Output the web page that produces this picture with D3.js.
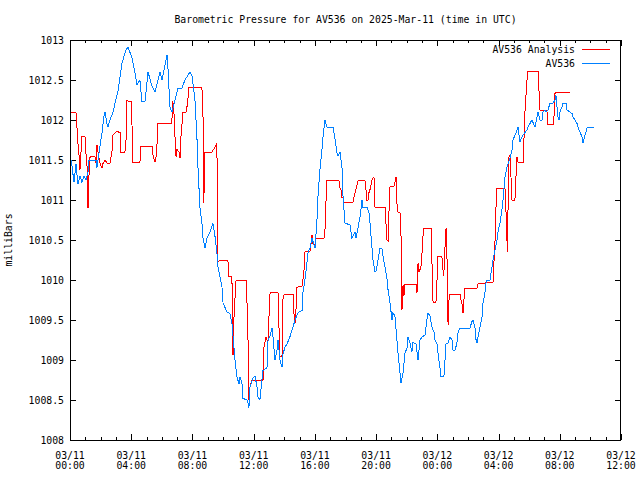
<!DOCTYPE html>
<html><head><meta charset="utf-8">
<script src="https://cdn.jsdelivr.net/npm/d3@7"></script>
<style>
body{margin:0;background:#fff;}
text{font-family:"DejaVu Sans Mono",monospace;font-size:9.8px;fill:#000;}
</style></head>
<body><svg id="c" width="640" height="480"></svg>
<script>
const title = "Barometric Pressure for AV536 on 2025-Mar-11 (time in UTC)";
const yLabel = "milliBars";
const seriesNames = ["AV536 Analysis", "AV536"];
const yTicks = [1008, 1008.5, 1009, 1009.5, 1010, 1010.5, 1011, 1011.5, 1012, 1012.5, 1013];
const yTickLabels = ["1008","1008.5","1009","1009.5","1010","1010.5","1011","1011.5","1012","1012.5","1013"];
const xMajorHours = [0,4,8,12,16,20,24,28,32,36];
const xTickLabels = [["03/11","00:00"],["03/11","04:00"],["03/11","08:00"],["03/11","12:00"],["03/11","16:00"],["03/11","20:00"],["03/12","00:00"],["03/12","04:00"],["03/12","08:00"],["03/12","12:00"]];

// hours since 2025-03-11 00:00 UTC, pressure in mb
const analysisHours = [0.05,0.39,0.46,0.52,0.59,0.65,0.72,0.78,0.98,1.05,1.11,1.13,1.20,1.24,1.31,1.63,1.70,1.76,1.83,1.96,2.09,2.16,2.29,2.42,2.61,2.74,2.81,2.94,3.07,3.27,3.33,3.59,3.66,3.72,3.99,4.05,4.07,4.57,4.64,5.36,5.42,5.55,5.68,5.70,6.66,6.68,6.75,6.79,6.86,6.93,6.99,7.12,7.19,7.25,7.38,7.58,7.64,7.71,7.77,8.62,8.69,8.70,8.72,8.75,8.78,8.82,9.28,9.34,9.47,9.60,9.62,9.65,9.67,9.73,10.32,10.39,10.58,10.62,10.65,10.68,10.78,10.85,11.50,11.56,11.63,11.66,11.69,11.76,11.89,12.61,12.67,12.80,12.87,12.94,13.00,13.07,13.59,13.65,13.72,13.85,13.90,13.92,14.18,14.57,14.63,14.70,14.77,14.83,15.16,15.22,15.29,15.35,15.68,15.75,15.81,15.88,16.01,16.07,16.59,16.66,16.73,16.79,17.57,17.64,17.70,17.77,17.84,17.90,18.49,18.62,18.75,18.82,19.27,19.34,19.40,19.47,19.53,19.60,19.73,19.86,19.93,20.58,20.65,20.71,20.78,20.84,20.91,21.17,21.23,21.30,21.32,21.36,21.43,21.56,21.63,21.66,21.69,21.76,21.82,21.89,22.61,22.67,22.74,22.80,22.93,23.00,23.06,23.13,23.59,23.65,23.72,23.91,23.98,24.00,24.30,24.37,24.40,24.43,24.50,24.57,24.63,24.67,24.70,24.76,24.83,25.48,25.55,25.61,25.68,25.74,25.81,26.59,26.66,27.64,27.70,27.77,27.80,27.83,27.90,28.42,28.49,28.55,28.58,28.62,28.68,28.75,28.81,28.88,29.07,29.14,29.20,29.27,29.60,29.66,29.73,29.86,29.92,30.58,30.64,30.71,31.16,31.20,31.56,31.62,31.69,32.67];
const analysisValues = [1012.1,1012.1,1011.9,1011.71,1011.56,1011.375,1011.6,1011.79,1011.79,1011.56,1011.46,1010.91,1010.91,1011.3,1011.54,1011.54,1011.46,1011.69,1011.6,1011.46,1011.4,1011.46,1011.5,1011.46,1011.46,1011.6,1011.81,1011.84,1011.86,1011.84,1011.6,1011.6,1011.75,1012.24,1012.23,1011.96,1011.475,1011.475,1011.675,1011.675,1011.56,1011.475,1011.6,1011.96,1011.96,1012.23,1012.2,1012.1,1011.79,1011.54,1011.63,1011.6,1011.52,1011.79,1012.1,1012.1,1012.16,1012.275,1012.41,1012.41,1012.04,1011.34,1010.96,1011.34,1011.09,1011.59,1011.6,1011.62,1011.66,1011.71,1010.98,1010.5,1010.225,1010.24,1010.24,1010.04,1010.04,1009.41,1009.06,1009.41,1009.775,1010.0,1010.0,1009.75,1009.25,1008.75,1008.5,1008.66,1008.75,1008.75,1009.15,1009.29,1009.25,1009.25,1009.54,1009.84,1009.84,1009.44,1009.04,1009.04,1009.41,1009.81,1009.825,1009.825,1009.59,1009.46,1009.65,1009.91,1009.92,1010.01,1010.125,1010.35,1010.36,1010.46,1010.56,1010.45,1010.45,1010.52,1010.52,1010.625,1011.0,1011.25,1011.25,1011.15,1011.13,1011.025,1011.03,1010.975,1010.975,1011.09,1011.19,1011.24,1011.24,1011.125,1011.0,1011.0,1011.09,1011.13,1011.25,1011.29,1010.91,1010.91,1010.69,1010.5,1010.49,1010.84,1011.175,1011.175,1011.225,1011.29,1011.15,1010.96,1010.85,1010.85,1010.54,1010.0,1009.625,1009.94,1009.8,1009.95,1009.95,1009.84,1010.21,1010.1,1010.16,1010.34,1010.54,1010.65,1010.65,1010.225,1009.725,1009.725,1010.0,1010.29,1010.29,1010.125,1010.05,1010.1,1010.41,1010.65,1010.29,1009.84,1009.44,1009.75,1009.825,1009.825,1009.75,1009.71,1009.59,1009.75,1009.9,1009.9,1009.95,1009.975,1010.225,1010.5,1010.625,1010.9,1011.15,1011.15,1010.84,1010.5,1010.35,1010.9,1011.54,1011.56,1011.3,1011.0,1011.0,1011.3,1011.54,1011.475,1011.475,1011.75,1012.125,1012.5,1012.61,1012.61,1012.375,1012.125,1012.125,1011.94,1011.94,1012.04,1012.34,1012.34];

const obsHours = [0.08,0.26,0.39,0.52,0.65,0.78,0.91,1.05,1.18,1.24,1.31,1.70,1.76,1.90,2.09,2.22,2.29,2.42,2.48,2.61,2.81,3.14,3.40,3.66,3.79,4.05,4.25,4.38,4.57,4.70,4.90,5.10,5.36,5.55,5.88,6.01,6.34,6.40,6.53,6.66,6.86,7.06,7.32,7.51,7.84,7.97,8.04,8.17,8.30,8.36,8.49,8.62,8.69,8.82,8.95,9.15,9.34,9.47,9.60,9.67,9.80,9.93,10.00,10.26,10.45,10.58,10.65,10.78,10.91,11.04,11.11,11.24,11.30,11.56,11.63,11.69,11.76,11.96,12.09,12.22,12.28,12.41,12.54,12.61,12.87,12.94,13.07,13.20,13.26,13.39,13.52,13.59,13.72,13.85,13.92,14.05,14.18,14.37,14.50,14.57,14.70,14.90,15.16,15.22,15.35,15.48,15.55,15.68,15.81,15.88,16.01,16.14,16.20,16.33,16.46,16.53,16.66,16.73,16.79,17.18,17.31,17.44,17.51,17.64,17.77,17.84,17.97,18.29,18.42,18.62,18.69,18.95,19.08,19.14,19.40,19.53,19.60,19.73,19.80,19.93,20.02,20.12,20.25,20.38,20.45,20.58,20.71,20.78,20.91,21.04,21.10,21.23,21.36,21.43,21.56,21.63,21.76,21.89,22.02,22.08,22.21,22.34,22.41,22.61,22.67,22.74,22.87,23.00,23.19,23.32,23.39,23.52,23.65,23.78,23.85,23.98,24.04,24.17,24.24,24.43,24.50,24.57,24.70,24.83,24.96,25.02,25.15,25.28,25.35,25.48,26.13,26.26,26.33,26.46,26.53,26.59,26.66,26.79,26.92,26.98,27.11,27.18,27.24,27.44,27.57,27.64,27.77,27.90,27.96,28.09,28.22,28.29,28.42,28.55,28.62,28.75,28.88,28.94,29.07,29.20,29.27,29.40,29.47,29.60,29.86,29.92,30.18,30.25,30.38,30.51,30.58,30.71,30.84,30.90,31.03,31.10,31.23,31.36,31.56,31.69,31.75,31.82,31.88,31.95,32.01,32.14,32.21,32.41,32.47,32.67,32.80,32.86,32.99,33.12,33.19,33.32,33.45,33.52,33.65,33.78,33.84,34.23];
const obsValues = [1011.5,1011.22,1011.45,1011.2,1011.3,1011.22,1011.3,1011.25,1011.35,1011.5,1011.5,1011.5,1011.4,1011.6,1011.84,1012.05,1012.1,1011.95,1011.91,1012.0,1012.1,1012.37,1012.71,1012.88,1012.91,1012.78,1012.59,1012.44,1012.5,1012.23,1012.23,1012.6,1012.42,1012.35,1012.6,1012.5,1012.81,1012.65,1012.16,1012.1,1012.25,1012.4,1012.4,1012.5,1012.6,1012.55,1012.45,1012.23,1011.75,1011.41,1010.91,1010.71,1010.52,1010.4,1010.52,1010.6,1010.71,1010.55,1010.34,1010.16,1010.04,1009.91,1009.71,1009.6,1009.58,1009.46,1009.3,1009.0,1008.79,1008.7,1008.79,1008.7,1008.52,1008.5,1008.46,1008.4,1008.66,1008.78,1008.8,1008.66,1008.54,1008.5,1008.75,1008.87,1008.9,1009.25,1009.3,1009.4,1009.3,1009.0,1009.12,1009.25,1009.0,1008.91,1009.08,1009.16,1009.2,1009.29,1009.37,1009.41,1009.5,1009.59,1009.62,1009.84,1010.0,1010.21,1010.34,1010.4,1010.52,1010.48,1010.4,1010.77,1011.04,1011.375,1011.625,1011.79,1012.0,1011.95,1011.91,1011.91,1011.77,1011.59,1011.55,1011.6,1011.41,1011.04,1010.71,1010.69,1010.52,1010.6,1010.52,1010.79,1011.0,1010.91,1010.91,1010.85,1010.71,1010.41,1010.25,1010.1,1010.12,1010.25,1010.4,1010.4,1010.3,1010.16,1010.02,1009.875,1009.71,1009.5,1009.59,1009.55,1009.25,1009.09,1008.84,1008.71,1008.84,1009.09,1009.15,1009.29,1009.22,1009.1,1009.22,1009.2,1009.1,1009.0,1009.25,1009.29,1009.31,1009.5,1009.59,1009.55,1009.41,1009.35,1009.25,1009.2,1009.09,1008.91,1008.79,1008.79,1009.0,1009.21,1009.21,1009.29,1009.25,1009.125,1009.12,1009.21,1009.34,1009.4,1009.4,1009.48,1009.5,1009.4,1009.25,1009.21,1009.29,1009.41,1009.54,1009.71,1009.84,1009.96,1009.99,1010.0,1010.16,1010.25,1010.375,1010.5,1010.6,1010.71,1010.875,1011.0,1011.29,1011.41,1011.45,1011.52,1011.625,1011.75,1011.81,1011.87,1011.91,1011.73,1011.76,1011.81,1011.875,1011.91,1012.0,1011.97,1011.91,1012.04,1012.1,1012.0,1012.0,1012.1,1012.125,1012.1,1012.125,1012.21,1012.21,1012.25,1012.31,1012.16,1012.04,1012.0,1012.1,1012.16,1012.21,1012.21,1012.125,1012.1,1012.08,1012.04,1012.0,1011.96,1011.91,1011.85,1011.79,1011.71,1011.81,1011.9,1011.91,1011.91];

const colors = ["#ff0000", "#0080ff"];
const start = Date.UTC(2025, 2, 11, 0, 0);
const toDate = h => new Date(start + h * 3600e3);

const svg = d3.select("#c");
const L = 70, R = 621, T = 40, B = 440;
const x = d3.scaleUtc().domain([toDate(0), toDate(36)]).range([L, R]);
const y = d3.scaleLinear().domain([1008, 1013]).range([B, T]);

svg.append("rect").attr("width",640).attr("height",480).attr("fill","#fff");

// ticks
const minorHours = d3.range(0, 37).filter(h => h % 4 !== 0);
const tg = svg.append("g").attr("stroke","#000").attr("shape-rendering","crispEdges");
xMajorHours.forEach(h => {
  const px = Math.round(x(toDate(h))) + 0.5;
  tg.append("line").attr("x1",px).attr("x2",px).attr("y1",B).attr("y2",B-6);
  tg.append("line").attr("x1",px).attr("x2",px).attr("y1",T).attr("y2",T+6);
});
minorHours.forEach(h => {
  const px = Math.round(x(toDate(h))) + 0.5;
  tg.append("line").attr("x1",px).attr("x2",px).attr("y1",B).attr("y2",B-3);
  tg.append("line").attr("x1",px).attr("x2",px).attr("y1",T).attr("y2",T+3);
});
yTicks.forEach(v => {
  const py = Math.round(y(v)) + 0.5;
  tg.append("line").attr("x1",L).attr("x2",L+6).attr("y1",py).attr("y2",py);
  tg.append("line").attr("x1",R).attr("x2",R-6).attr("y1",py).attr("y2",py);
});

// labels
yTicks.forEach((v,i) => {
  svg.append("text").attr("x",64).attr("y",y(v)+3.5).attr("text-anchor","end").text(yTickLabels[i]);
});
xMajorHours.forEach((h,i) => {
  const t = svg.append("text").attr("text-anchor","middle").attr("x", x(toDate(h)));
  t.append("tspan").attr("x", x(toDate(h))).attr("y", 458.5).text(xTickLabels[i][0]);
  t.append("tspan").attr("x", x(toDate(h))).attr("y", 469).text(xTickLabels[i][1]);
});
svg.append("text").attr("x",(L+R)/2).attr("y",23).attr("text-anchor","middle").text(title);
svg.append("text").attr("transform","translate(12,240) rotate(-90)").attr("text-anchor","middle").text(yLabel);

// series
const line = d3.line().x(d => x(toDate(d[0]))).y(d => y(d[1]));
const series = [
  d3.zip(analysisHours, analysisValues),
  d3.zip(obsHours, obsValues)
];
series.forEach((s,i) => {
  svg.append("path").datum(s).attr("d", line).attr("fill","none")
    .attr("stroke", colors[i]).attr("stroke-width",1).attr("shape-rendering","crispEdges");
});

// frame
svg.append("rect").attr("x",L+0.5).attr("y",T+0.5).attr("width",R-L-1).attr("height",B-T)
  .attr("fill","none").attr("stroke","#000").attr("shape-rendering","crispEdges");

// legend
seriesNames.forEach((n,i) => {
  const ly = 49.5 + i*13.5;
  svg.append("text").attr("x",575).attr("y",ly+3.5).attr("text-anchor","end").text(n);
  svg.append("line").attr("x1",582).attr("x2",610).attr("y1",ly).attr("y2",ly)
    .attr("stroke",colors[i]).attr("shape-rendering","crispEdges");
});
</script></body></html>
